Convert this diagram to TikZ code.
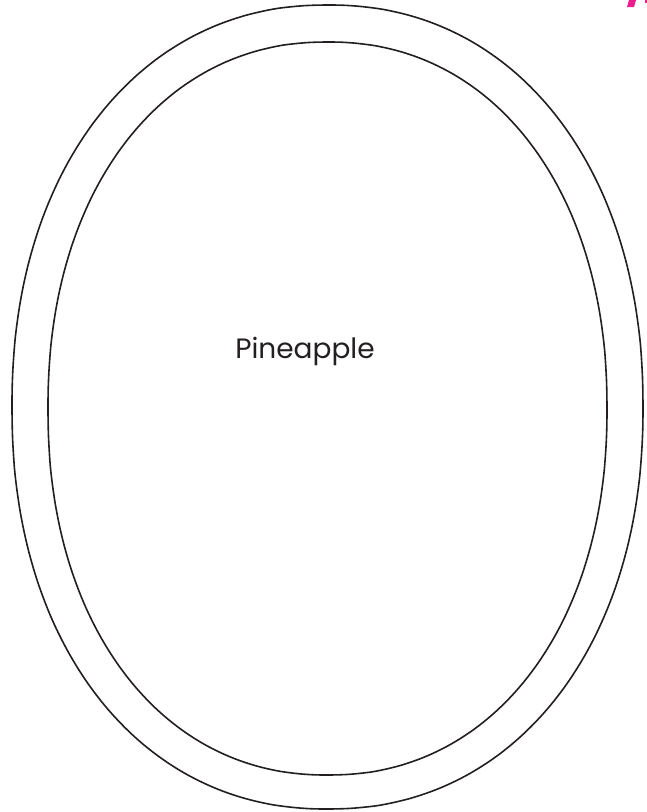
\documentclass[tikz,border=0pt]{standalone}
\usepackage{fontspec}
\setmainfont{Poppins}
\usepackage{tikz}
\usetikzlibrary{positioning}
\usepackage{xcolor}
\definecolor{ink}{HTML}{231F20}
\definecolor{tagpink}{HTML}{EC1C8C}

\begin{document}
\begin{tikzpicture}[x=1pt,y=-1pt]
\useasboundingbox (0,0) rectangle (647,812);
% outer and inner rings (slightly squared ovals)
\draw[ink,line width=1.6pt,domain=0.5:360.5,samples=181,smooth]
  plot ({327.5+315.5*sign(cos(\x))*abs(cos(\x))^0.93},{407+402*sign(sin(\x))*abs(sin(\x))^0.93}) -- cycle;
\draw[ink,line width=1.6pt,domain=0.5:360.5,samples=181,smooth]
  plot ({327.5+279.5*sign(cos(\x))*abs(cos(\x))^0.93},{408.5+366.5*sign(sin(\x))*abs(sin(\x))^0.93}) -- cycle;
\node[ink,anchor=base,font=\fontsize{28}{32}\selectfont] (fruit) at (305,358) {Pineapple};
% clipped corner mark
\fill[tagpink] (629,0)--(636,0)--(634,7)--(627,7)--cycle;
\fill[tagpink] (644.5,0) rectangle (646.5,3);
\end{tikzpicture}
\end{document}
